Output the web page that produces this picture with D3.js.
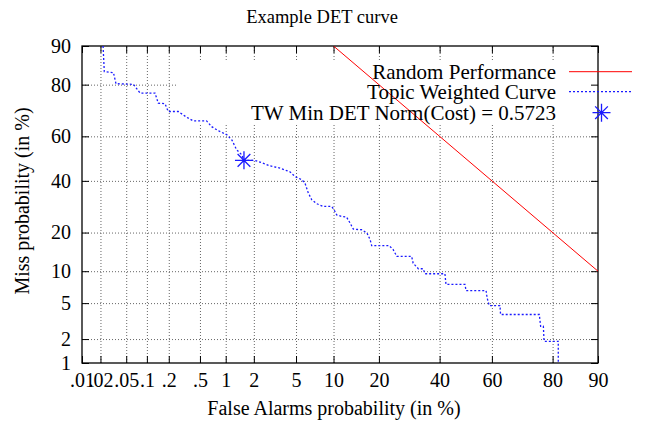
<!DOCTYPE html>
<html><head><meta charset="utf-8">
<script src="https://cdn.jsdelivr.net/npm/d3@7"></script>
<style>
body{margin:0;background:#fff}
svg{display:block}
</style>
</head><body>
<svg id="c" width="645" height="429"></svg>
<script>
// ---------- data ----------
const title = "Example DET curve";
const xLabel = "False Alarms probability (in %)";
const yLabel = "Miss probability (in %)";
const faTicks = [0.01, 0.02, 0.05, 0.1, 0.2, 0.5, 1, 2, 5, 10, 20, 40, 60, 80, 90];
const faTickLabels = [".01", ".02", ".05", ".1", ".2", ".5", "1", "2", "5", "10", "20", "40", "60", "80", "90"];
const missTicks = [1, 2, 5, 10, 20, 40, 60, 80, 90];
const missTickLabels = ["1", "2", "5", "10", "20", "40", "60", "80", "90"];
const seriesNames = ["Random Performance", "Topic Weighted Curve", "TW Min DET Norm(Cost) = 0.5723"];

const randomFA = [10, 90];
const randomMiss = [90, 10];

const curveFA = [0.022, 0.023, 0.032, 0.035, 0.064, 0.080, 0.13, 0.144, 0.178, 0.197, 0.267, 0.342, 0.414, 0.60, 0.69, 0.82, 1.03, 1.17, 1.32, 1.50, 1.58, 2.05, 2.31, 2.89, 3.59, 4.42, 4.9, 5.6, 5.96, 6.35, 6.77, 7.42, 8.36, 9.69, 10.1, 10.55, 11.5, 12.4, 13.1, 13.8, 15.65, 16.9, 17.7, 18.1, 22.9, 24.1, 25.2, 30.0, 30.5, 32.3, 34.0, 34.6, 42.0, 42.4, 49.7, 50.1, 57.8, 58.2, 59.0, 63.0, 63.2, 76.2, 76.6, 77.4, 77.6, 81.5, 81.5];
const curveMiss = [90, 83.9, 83.6, 80.3, 80.1, 77.2, 77.2, 73.6, 73.4, 70.4, 70.4, 68.1, 66.6, 66.6, 64.2, 62.5, 60.7, 58.4, 54.0, 51.7, 49.2, 49.2, 48.4, 46.7, 45.7, 44.0, 41.9, 40.5, 39.0, 34.8, 32.0, 30.4, 29.3, 29.3, 28.0, 26.1, 25.5, 25.3, 23.2, 21.1, 20.9, 19.9, 17.8, 16.1, 16.1, 15.0, 13.3, 13.3, 11.7, 10.5, 10.5, 9.5, 9.5, 7.6, 7.6, 6.65, 6.65, 5.64, 4.72, 4.72, 3.8, 3.8, 2.82, 2.82, 1.88, 1.88, 1.0];

const minFA = [1.58];
const minMiss = [49.2];

// ---------- helpers ----------
function probit(p) {
  const a = [-3.969683028665376e+01, 2.209460984245205e+02, -2.759285104469687e+02, 1.383577518672690e+02, -3.066479806614716e+01, 2.506628277459239e+00];
  const b = [-5.447609879822406e+01, 1.615858368580409e+02, -1.556989798598866e+02, 6.680131188771972e+01, -1.328068155288572e+01];
  const c = [-7.784894002430293e-03, -3.223964580411365e-01, -2.400758277161838e+00, -2.549732539343734e+00, 4.374664141464968e+00, 2.938163982698783e+00];
  const d = [7.784695709041462e-03, 3.224671290700398e-01, 2.445134137142996e+00, 3.754408661907416e+00];
  const pl = 0.02425, ph = 1 - pl;
  let q, r;
  if (p < pl) { q = Math.sqrt(-2 * Math.log(p)); return (((((c[0]*q+c[1])*q+c[2])*q+c[3])*q+c[4])*q+c[5]) / ((((d[0]*q+d[1])*q+d[2])*q+d[3])*q+1); }
  if (p <= ph) { q = p - 0.5; r = q*q; return (((((a[0]*r+a[1])*r+a[2])*r+a[3])*r+a[4])*r+a[5])*q / (((((b[0]*r+b[1])*r+b[2])*r+b[3])*r+b[4])*r+1); }
  q = Math.sqrt(-2 * Math.log(1 - p)); return -(((((c[0]*q+c[1])*q+c[2])*q+c[3])*q+c[4])*q+c[5]) / ((((d[0]*q+d[1])*q+d[2])*q+d[3])*q+1);
}
const pz = v => probit(v / 100);
const FONT = '"Liberation Serif"';

const L = 82, R = 598, T = 46, B = 363;
const zx = d3.scaleLinear().domain([pz(faTicks[0]), pz(faTicks[faTicks.length - 1])]).range([L, R]);
const zy = d3.scaleLinear().domain([pz(missTicks[0]), pz(missTicks[missTicks.length - 1])]).range([B, T]);
const X = v => zx(pz(v));
const Y = v => zy(pz(v));

const svg = d3.select("#c").style("font-family", FONT);
svg.append("rect").attr("width", 645).attr("height", 429).attr("fill", "#fff");

svg.append("defs").append("clipPath").attr("id", "clip")
  .append("rect").attr("x", L).attr("y", T).attr("width", R - L).attr("height", B - T);

// ---------- grid ----------
const grid = svg.append("g");
grid.append("g").attr("transform", `translate(0,${B})`)
  .call(d3.axisBottom(zx).tickValues(faTicks.slice(1, -1).map(pz)).tickSize(-(B - T)).tickFormat(""));
grid.append("g").attr("transform", `translate(${L},0)`)
  .call(d3.axisLeft(zy).tickValues(missTicks.slice(1, -1).map(pz)).tickSize(-(R - L)).tickFormat(""));
grid.selectAll(".domain").remove();
grid.selectAll(".tick line").attr("stroke", "#666").attr("stroke-width", 1).attr("stroke-dasharray", "1,2");

// legend background box
svg.append("rect").attr("x", 176).attr("y", 60).attr("width", 470).attr("height", 63).attr("fill", "#fff");

// ---------- axes (inward ticks on all sides) ----------
const tk = 7;
const fs = 20;
const axB = svg.append("g").attr("transform", `translate(0,${B})`)
  .call(d3.axisBottom(zx).tickValues(faTicks.map(pz)).tickSize(-tk).tickPadding(10)
    .tickFormat((d, i) => faTickLabels[i]));
const axT = svg.append("g").attr("transform", `translate(0,${T})`)
  .call(d3.axisTop(zx).tickValues(faTicks.map(pz)).tickSize(-tk).tickFormat(""));
const axL = svg.append("g").attr("transform", `translate(${L},0)`)
  .call(d3.axisLeft(zy).tickValues(missTicks.map(pz)).tickSize(-tk).tickPadding(11)
    .tickFormat((d, i) => missTickLabels[i]));
const axR = svg.append("g").attr("transform", `translate(${R},0)`)
  .call(d3.axisRight(zy).tickValues(missTicks.map(pz)).tickSize(-tk).tickFormat(""));
[axB, axT, axL, axR].forEach(a => {
  a.attr("font-family", null).attr("font-size", fs);
  a.selectAll(".domain").remove();
  a.selectAll(".tick line").attr("stroke", "#000").attr("stroke-width", 1);
  a.selectAll("text").attr("font-size", fs).attr("fill", "#000").style("font-family", FONT);
});
svg.append("rect").attr("x", L).attr("y", T).attr("width", R - L).attr("height", B - T)
  .attr("fill", "none").attr("stroke", "#000").attr("stroke-width", 1.3);

// ---------- series ----------
const plot = svg.append("g").attr("clip-path", "url(#clip)");
const line = d3.line().x(d => X(d[0])).y(d => Y(d[1]));
plot.append("path").datum(curveFA.map((f, i) => [f, curveMiss[i]]))
  .attr("d", line).attr("fill", "none").attr("stroke", "#1a1aff").attr("stroke-width", 1.3)
  .attr("stroke-dasharray", "2,2");
plot.append("path").datum(randomFA.map((f, i) => [f, randomMiss[i]]))
  .attr("d", line).attr("fill", "none").attr("stroke", "#ff0000").attr("stroke-width", 1);

function star(g, cx, cy, r) {
  const k = r * 0.7071;
  g.append("path")
    .attr("d", `M${cx - r},${cy}H${cx + r}M${cx},${cy - r}V${cy + r}M${cx - k},${cy - k}L${cx + k},${cy + k}M${cx - k},${cy + k}L${cx + k},${cy - k}`)
    .attr("stroke", "#1a1aff").attr("stroke-width", 1.3).attr("fill", "none");
}
minFA.forEach((f, i) => star(svg, X(f), Y(minMiss[i]), 9));

// ---------- legend ----------
const legY = [71.7, 91.7, 112.7];
const leg = svg.append("g");
seriesNames.forEach((n, i) => {
  leg.append("text").attr("x", 556).attr("y", legY[i]).attr("dy", "0.35em")
    .attr("text-anchor", "end").attr("font-size", 21).style("font-family", FONT).text(n);
});
leg.append("line").attr("x1", 569).attr("x2", 632).attr("y1", legY[0]).attr("y2", legY[0])
  .attr("stroke", "#ff0000").attr("stroke-width", 1);
leg.append("line").attr("x1", 569).attr("x2", 632).attr("y1", legY[1]).attr("y2", legY[1])
  .attr("stroke", "#1a1aff").attr("stroke-width", 1.3).attr("stroke-dasharray", "2,2");
star(leg, 601.5, legY[2], 9);

// ---------- titles ----------
svg.append("text").attr("x", 322).attr("y", 17).attr("dy", "0.35em").attr("text-anchor", "middle")
  .attr("font-size", 18.5).style("font-family", FONT).text(title);
svg.append("text").attr("x", 334).attr("y", 408).attr("dy", "0.35em").attr("text-anchor", "middle")
  .attr("font-size", 20).style("font-family", FONT).text(xLabel);
svg.append("text").attr("transform", `translate(22,201) rotate(-90)`).attr("dy", "0.35em")
  .attr("text-anchor", "middle").attr("font-size", 20).style("font-family", FONT).text(yLabel);
</script>
</body></html>
